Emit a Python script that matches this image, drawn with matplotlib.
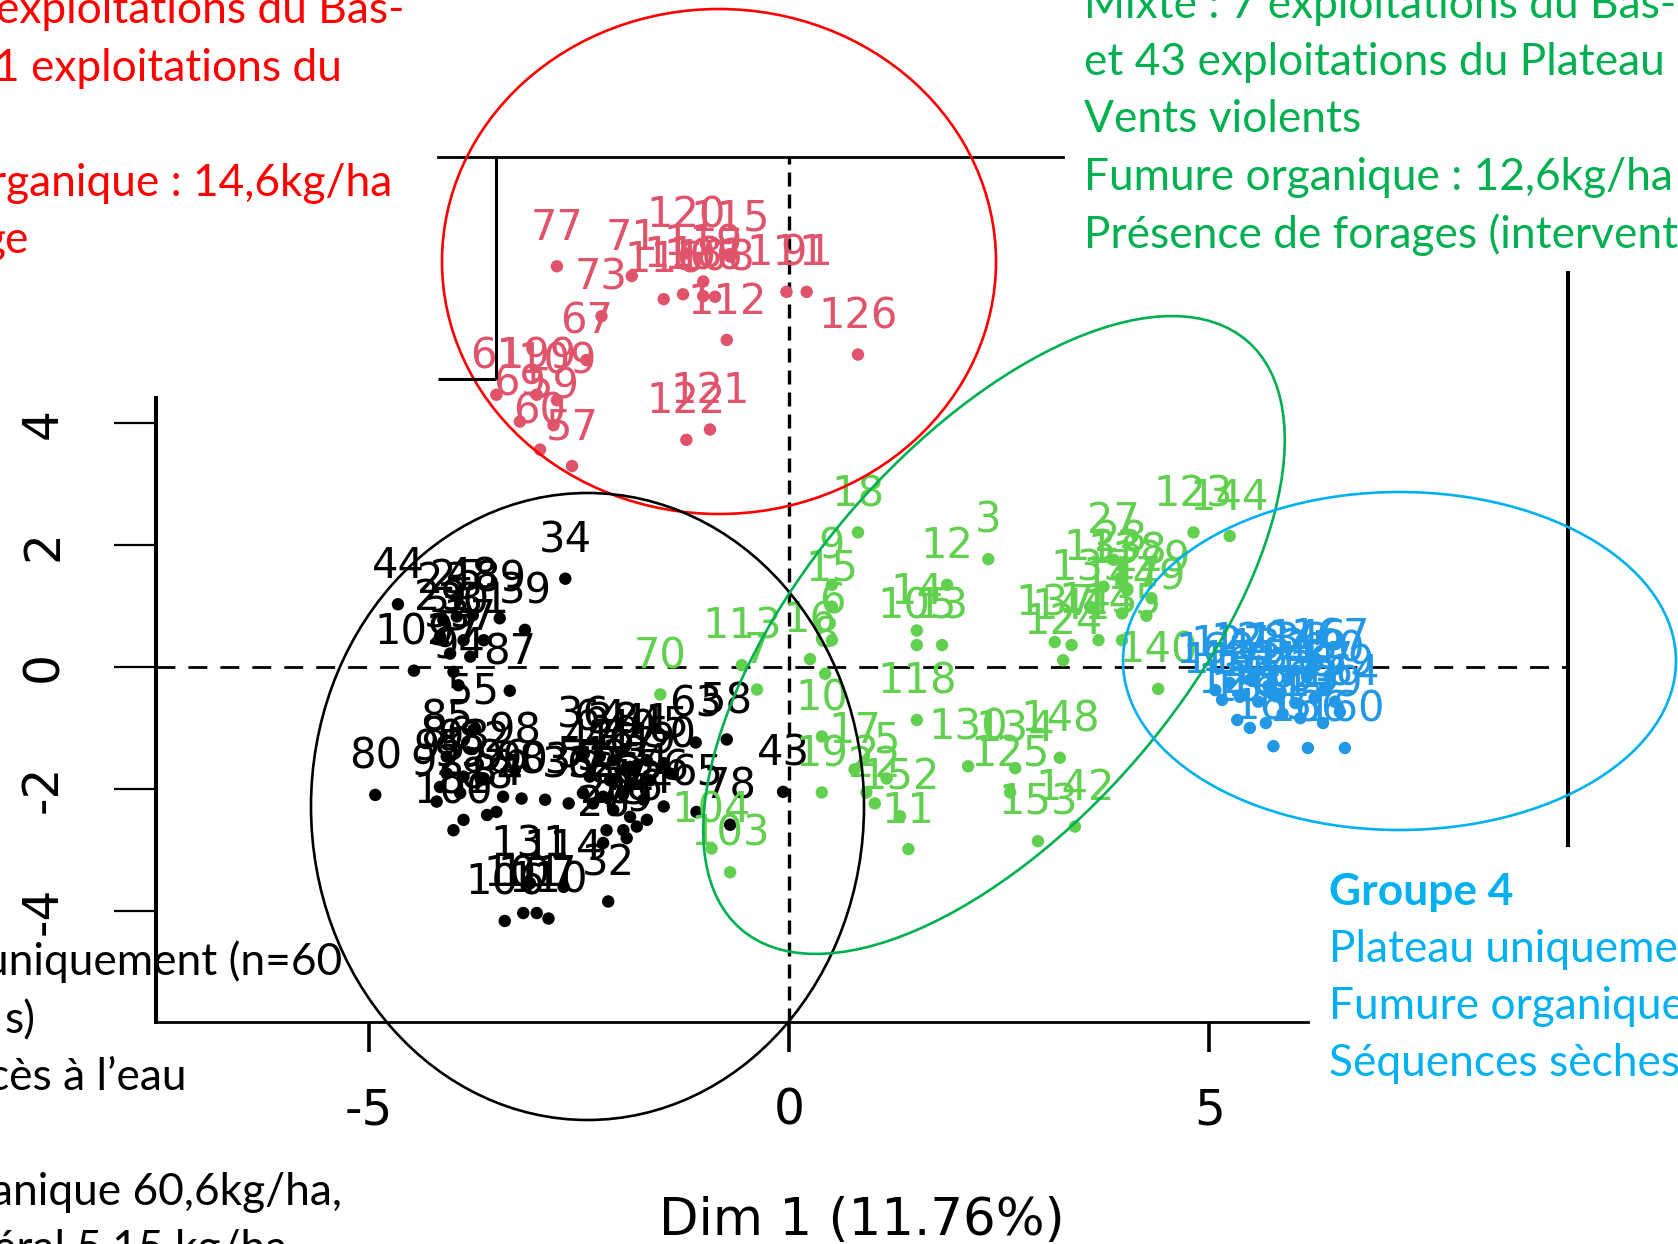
import matplotlib
matplotlib.use("Agg")
import matplotlib.pyplot as plt
from matplotlib.patches import Ellipse

plt.rcParams["axes.unicode_minus"] = False
plt.rcParams["font.family"] = "DejaVu Sans"

W, H, DPI = 1678, 1244, 100

# --- individuals on the first factorial plane (Dim 1, Dim 2), by cluster ---
# cluster 1 (black)
blk_x = [-2.66, -4.65, -3.14, -3.76, -3.44, -4.11, -3.95, -4.15, -3.87, -3.63, -4.03, -3.79,
         -3.99, -4.46, -3.32, -3.75, -3.93, -4.07, -4.92, -3.26, -4.19, -4.07, -3.87, -3.63,
         -2.90, -2.62, -3.40, -3.18, -3.59, -3.48, -3.87, -3.99, -4.15, -3.91, -2.25, -2.45,
         -2.09, -1.89, -1.69, -1.49, -2.37, -2.13, -1.89, -1.65, -1.41, -2.45, -2.21, -1.97,
         -1.73, -1.49, -2.33, -2.09, -1.89, -1.69, -1.97, -1.81, -1.93, -2.17, -2.21, -1.11,
         -0.74, -0.07, -0.70, -1.10, -2.15, -3.38, -3.16, -3.00, -2.86, -3.08, -2.68]
blk_y = [1.45, 1.03, 0.61, 0.85, 0.80, 0.77, 0.83, 0.50, 0.44, 0.44, 0.22, 0.17,
         -0.08, -0.06, -0.39, -1.03, -0.30, -1.47, -2.10, -1.69, -2.21, -1.75, -1.80, -1.83,
         -2.18, -2.24, -2.13, -2.16, -2.43, -2.38, -2.51, -2.68, -1.97, -2.07, -1.47, -1.42,
         -1.53, -1.64, -1.53, -1.58, -1.80, -1.86, -1.91, -1.86, -1.75, -2.07, -2.13, -2.07,
         -2.18, -2.29, -2.24, -2.35, -2.46, -2.51, -2.68, -2.62, -2.81, -2.68, -2.89, -1.24,
         -1.19, -2.05, -2.59, -2.38, -3.85, -4.17, -4.04, -4.04, -4.13, -3.55, -3.61]
blk_lab = ["34", "44", "39", "48", "89", "23", "25", "29", "30", "31", "35", "37",
           "97", "102", "87", "55", "94", "85", "80", "98", "92", "86", "93", "82",
           "83", "33", "96", "90", "88", "84", "81", "100", "95", "99", "64", "36",
           "38", "40", "41", "45", "42", "46", "47", "49", "50", "51", "52", "53",
           "54", "56", "62", "66", "72", "74", "75", "76", "79", "20", "26", "63",
           "58", "43", "78", "65", "32", "106", "101", "107", "110", "131", "114"]

# cluster 2 (red)
pnk_x = [-2.76, -2.23, -2.41, -1.87, -1.49, -1.26, -1.02, -0.88, -0.74, -1.22, -0.70, -0.03,
         0.21, 0.82, -3.00, -3.48, -2.76, -3.20, -2.80, -2.58, -2.96, -1.22, -0.94, -1.02]
pnk_y = [6.58, 5.76, 5.04, 6.42, 6.04, 6.12, 6.09, 6.08, 5.37, 6.79, 6.74, 6.16,
         6.16, 5.13, 4.47, 4.47, 4.38, 4.03, 3.97, 3.30, 3.57, 3.73, 3.90, 6.33]
pnk_lab = ["77", "73", "67", "71", "116", "118", "106", "108", "112", "120", "115", "111",
           "91", "126", "199", "61", "109", "69", "59", "57", "60", "122", "121", "119"]

# cluster 3 (green)
grn_x = [0.82, 0.51, 0.51, 0.51, 0.25, 0.43, -0.56, -0.38, 0.39, 1.88, 2.37, 1.52,
         1.52, 1.82, 1.52, 0.78, 1.16, 0.39, 0.92, 1.02, 1.32, 1.42, 2.13, 2.69,
         3.22, 2.63, 3.40, 2.96, -0.92, -0.70, -1.53, 4.81, 5.24, 3.86, 3.74, 3.94,
         4.02, 3.58, 4.31, 4.25, 3.96, 3.16, 3.36, 3.68, 3.96, 3.26, 4.39]
grn_y = [2.21, 1.35, 0.99, 0.44, 0.13, -0.11, 0.03, -0.37, -1.14, 1.35, 1.77, 0.60,
         0.36, 0.36, -0.87, -1.68, -1.83, -2.06, -2.06, -2.24, -2.45, -2.99, -1.63, -1.66,
         -1.49, -2.06, -2.62, -2.86, -2.98, -3.37, -0.45, 2.21, 2.15, 1.76, 1.32, 1.46,
         1.26, 0.99, 1.13, 0.84, 0.88, 0.41, 0.36, 0.44, 0.44, 0.11, -0.36]
grn_lab = ["18", "9", "15", "6", "16", "8", "113", "7", "10", "12", "3", "14",
           "105", "13", "118", "17", "5", "19", "2", "22", "152", "11", "130", "134",
           "148", "125", "142", "153", "104", "103", "70", "123", "144", "27", "133", "28",
           "138", "135", "129", "149", "147", "137", "141", "143", "145", "124", "140"]

# cluster 4 (blue)
blu_x = [5.24, 5.48, 5.70, 5.93, 6.16, 6.37, 5.15, 5.36, 5.58, 5.79, 6.02, 6.25, 6.49,
         5.33, 5.48, 5.67, 5.87, 6.08, 6.35, 6.55, 5.76, 6.17, 6.61, 5.07, 6.43]
blu_y = [-0.26, -0.21, -0.31, -0.21, -0.16, -0.34, -0.54, -0.49, -0.57, -0.48, -0.59, -0.51, -0.57,
         -0.87, -1.00, -0.92, -0.77, -0.84, -0.92, -0.74, -1.30, -1.33, -1.33, -0.38, -0.15]
blu_lab = ["127", "128", "132", "136", "146", "150", "117", "151", "154", "155", "156", "157", "159",
           "120", "158", "161", "162", "163", "139", "164", "165", "166", "160", "168", "167"]

clusters = [
    (blk_x, blk_y, blk_lab, "black"),
    (pnk_x, pnk_y, pnk_lab, "#DF536B"),
    (grn_x, grn_y, grn_lab, "#61D04F"),
    (blu_x, blu_y, blu_lab, "#2297E6"),
]

x_ticks = [-5, 0, 5]
y_ticks = [-4, -2, 0, 2, 4]
x_title = "Dim 1 (11.76%)"

# group descriptions pasted around the map: (text, x, baseline)
red_lines = [("exploitations du Bas-", 404, 23), ("1 exploitations du", 342, 81),
             ("rganique : 14,6kg/ha", 392, 196), ("ge", 29, 253)]
green_lines = ["Mixte : 7 exploitations du Bas-fond", "et 43 exploitations du Plateau",
               "Vents violents", "Fumure organique : 12,6kg/ha", "Présence de forages (intervent"]
black_lines = [("uniquement (n=60", 342, 975), ("s)", 35, 1033), ("cès à l’eau", 187, 1090),
               ("anique 60,6kg/ha,", 342, 1205), ("éral 5,15 kg/ha", 287, 1262)]
blue_title = "Groupe 4"
blue_lines = ["Plateau uniquement", "Fumure organique", "Séquences sèches"]


fig = plt.figure(figsize=(W / DPI, H / DPI), dpi=DPI)
fig.patch.set_facecolor("white")

# main factor map, box from (156, 157) to (1568, 1022) px
ax = fig.add_axes([156 / W, (H - 1022) / H, (1568 - 156) / W, (1022 - 157) / H])
ax.set_xlim(-7.527, 9.263)
ax.set_ylim(-5.829, 8.374)

ax.axhline(0, color="black", lw=2.0, ls=(0, (6.8, 4.7)), zorder=1)
ax.axvline(0, color="black", lw=2.4, ls=(0, (4.2, 2.4)), zorder=1)

for xs, ys, labs, col in clusters:
    ax.scatter(xs, ys, s=80, color=col, edgecolors="none", zorder=3)
    for x, y, lab in zip(xs, ys, labs):
        ax.annotate(lab, (x, y), xytext=(0, 19), textcoords="offset points",
                    ha="center", va="baseline", fontsize=30, color=col, zorder=4)

ax.set_xticks(x_ticks)
ax.set_xticklabels([str(v) for v in x_ticks])
ax.set_yticks(y_ticks)
ax.set_yticklabels([str(v) for v in y_ticks])
ax.tick_params(axis="x", length=21.6, width=2.6, pad=25, labelsize=35)
ax.tick_params(axis="y", length=30, width=1.6, pad=34, labelsize=35, labelrotation=90)
for lab in ax.get_yticklabels():
    lab.set_va("center")

ax.set_xlabel(x_title, fontsize=37)
ax.xaxis.label.set_va("baseline")
ax.xaxis.set_label_coords(0.5, (1022 - 1235) / 865)

for side in ["left", "right"]:
    ax.spines[side].set_linewidth(2.9)
for side in ["top", "bottom"]:
    ax.spines[side].set_linewidth(2.0)
ax.spines["left"].set_bounds(-5.829, 4.417)
ax.spines["top"].set_bounds(-4.174, 3.258)
ax.spines["right"].set_bounds(-2.923, 6.470)
ax.spines["bottom"].set_bounds(-7.527, 6.171)

# overlay in pixel units for the hand-drawn group outlines and captions
ov = fig.add_axes([0, 0, 1, 1], zorder=5)
ov.set_xlim(0, W)
ov.set_ylim(H, 0)
ov.axis("off")
ov.patch.set_alpha(0)

ov.plot([496, 496], [157, 379], color="black", lw=2.2, solid_capstyle="butt")
ov.plot([438, 496], [379, 379], color="black", lw=2.2, solid_capstyle="butt")

outlines = [
    ((719, 261.5), 554, 505, 0, "#FF0000"),
    ((587.5, 806.5), 553, 627, 0, "black"),
    ((994, 635), 776, 378, -49.3, "#00B050"),
    ((1399.5, 661), 553, 338, 0, "#00B0F0"),
]
for centre, w, h, ang, col in outlines:
    ov.add_patch(Ellipse(centre, w, h, angle=ang, fill=False, edgecolor=col, lw=1.9))

# caption font size so that the green "Fumure" line spans 589 px
renderer = fig.canvas.get_renderer()
probe = ov.text(0, 0, green_lines[3], fontsize=30, family="Lato")
cap_size = 30 * 589 / probe.get_window_extent(renderer).width
probe.remove()

cap = dict(family="Lato", fontsize=cap_size, va="baseline")
for txt, xr, yb in red_lines:
    ov.text(xr, yb, txt, color="#FF0000", ha="right", **cap)
for i, txt in enumerate(green_lines):
    ov.text(1084, 17.5 + 57.5 * i, txt, color="#00B050", ha="left", **cap)
for txt, xr, yb in black_lines:
    ov.text(xr, yb, txt, color="black", ha="right", **cap)
ov.text(1329, 905, blue_title, color="#00B0F0", ha="left", fontweight="bold", **cap)
for i, txt in enumerate(blue_lines):
    ov.text(1329, 962 + 57 * i, txt, color="#00B0F0", ha="left", **cap)

fig.savefig("out.png", dpi=DPI)
